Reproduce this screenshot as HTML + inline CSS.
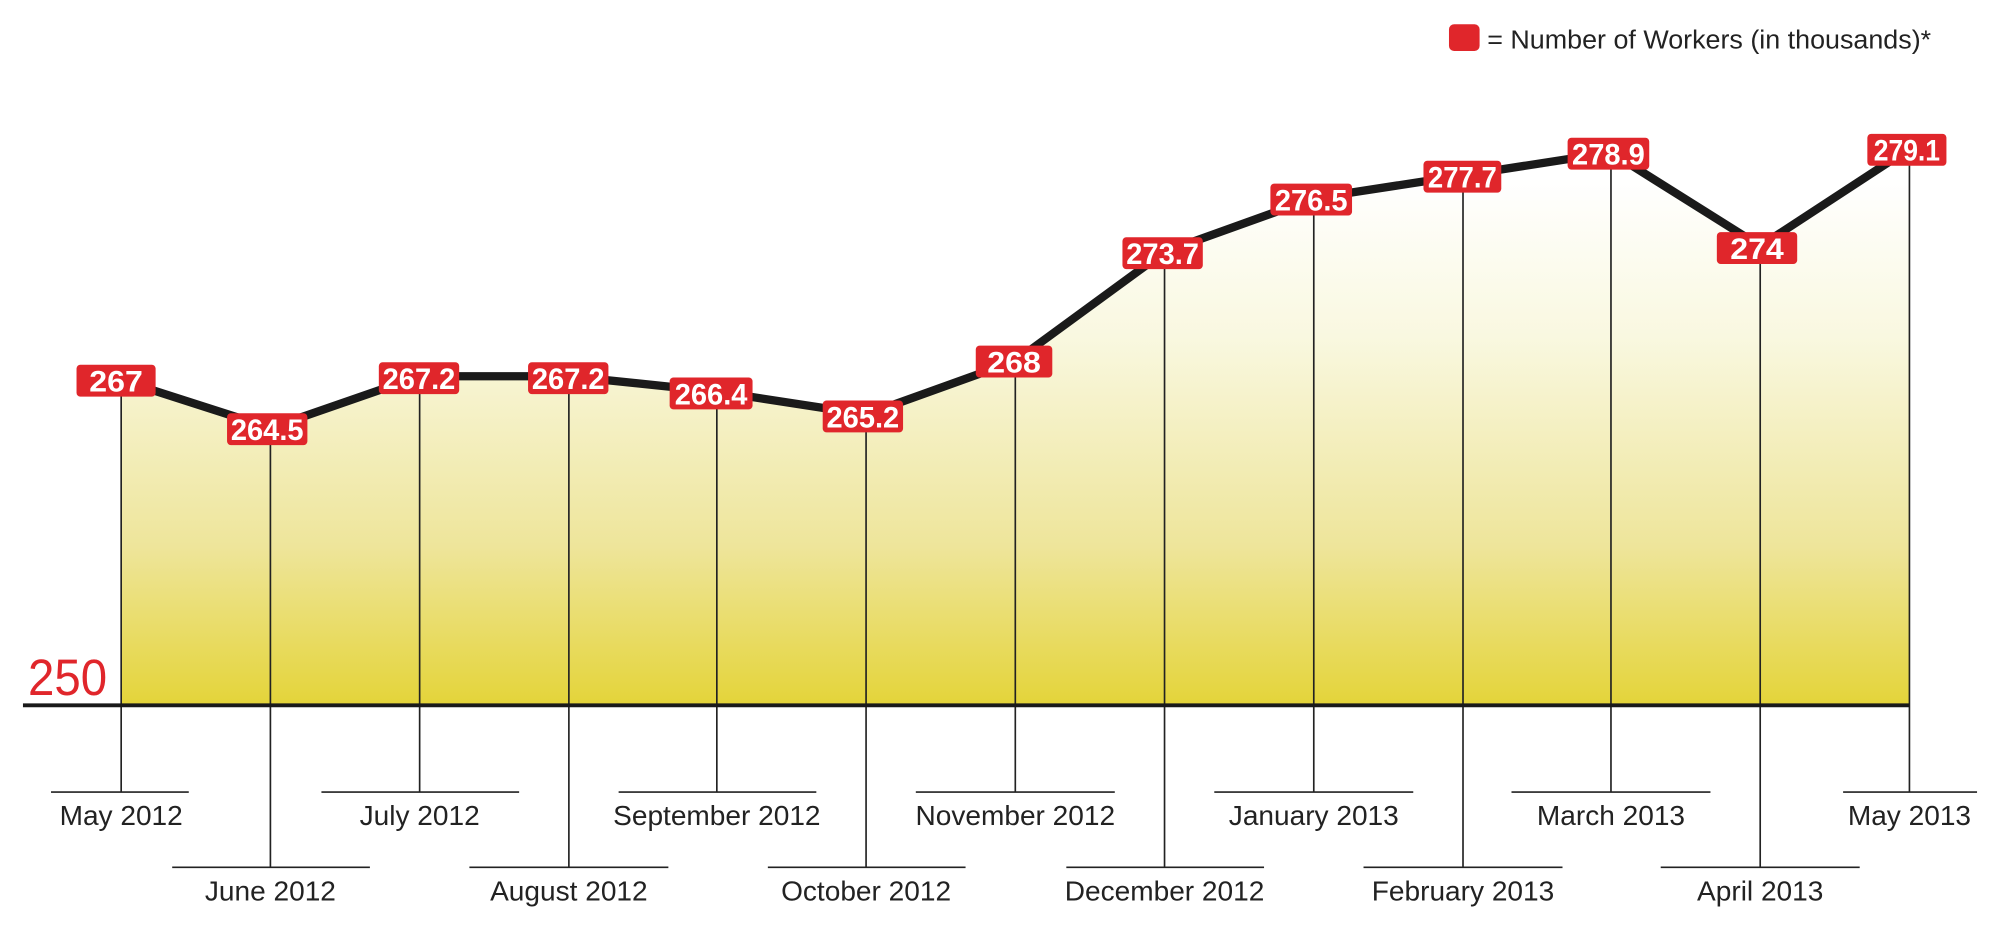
<!DOCTYPE html>
<html><head><style>html,body{margin:0;padding:0;background:#fff;width:2000px;height:933px;overflow:hidden}</style></head>
<body>
<svg width="2000" height="933" viewBox="0 0 1568 731.5" preserveAspectRatio="none" xmlns="http://www.w3.org/2000/svg" font-family="Liberation Sans, sans-serif">
<defs>
<linearGradient id="f" x1="0" y1="140" x2="0" y2="553" gradientUnits="userSpaceOnUse">
<stop offset="0" stop-color="#ffffff"/>
<stop offset="0.3" stop-color="#f9f8e0"/>
<stop offset="0.7" stop-color="#eee59a"/>
<stop offset="1" stop-color="#e4d439"/>
</linearGradient>
</defs>
<polygon fill="url(#f)" points="95,553 95,298 212,335.5 329,295 446,295 562,307 679,325 796,283 913,197.5 1030,155.5 1147,137.5 1263,119.5 1380,193 1497,116.5 1497,553"/>
<g stroke="#222" stroke-width="1.3" fill="none">
<path d="M95,298V621M212,335V680M329,295V621M446,295V680M562,307V621M679,325V680M796,283V621M913,197V680M1030,155V621M1147,137V680M1263,119V621M1380,193V680M1497,116V621"/>
<path d="M40,621H148M252,621H407M485,621H640M718,621H874M952,621H1108M1185,621H1341M1445,621H1550"/>
<path d="M135,680H290M368,680H524M602,680H757M836,680H991M1069,680H1225M1302,680H1458"/>
</g>
<line x1="18" y1="553" x2="1497" y2="553" stroke="#1a1a1a" stroke-width="3"/>
<polyline fill="none" stroke="#1a1a1a" stroke-width="6.5" stroke-linejoin="round" points="95,298 212,335.5 329,295 446,295 562,307 679,325 796,283 913,197.5 1030,155.5 1147,137.5 1263,119.5 1380,193 1497,116.5"/>
<g fill="#e0262b">
<rect x="60" y="286" width="62" height="25" rx="3"/>
<rect x="178" y="324" width="63" height="25" rx="3"/>
<rect x="297" y="284" width="63" height="25" rx="3"/>
<rect x="414" y="284" width="63" height="25" rx="3"/>
<rect x="525" y="296" width="65" height="25" rx="3"/>
<rect x="645" y="314" width="63" height="25" rx="3"/>
<rect x="765" y="271" width="60" height="25" rx="3"/>
<rect x="880" y="186" width="63" height="25" rx="3"/>
<rect x="996" y="144" width="64" height="25" rx="3"/>
<rect x="1116" y="126" width="61" height="25" rx="3"/>
<rect x="1229" y="108" width="64" height="25" rx="3"/>
<rect x="1346" y="182" width="63" height="25" rx="3"/>
<rect x="1464" y="105" width="62" height="25" rx="3"/>
<rect x="1136" y="19" width="24" height="21" rx="4"/>
</g>
<g fill="#fff" font-weight="bold" font-size="23" text-anchor="middle">
<text x="91" y="307" textLength="42" lengthAdjust="spacingAndGlyphs">267</text>
<text x="209.5" y="345" textLength="57" lengthAdjust="spacingAndGlyphs">264.5</text>
<text x="328.5" y="305" textLength="57" lengthAdjust="spacingAndGlyphs">267.2</text>
<text x="445.5" y="305" textLength="57" lengthAdjust="spacingAndGlyphs">267.2</text>
<text x="557.5" y="317" textLength="57" lengthAdjust="spacingAndGlyphs">266.4</text>
<text x="676.5" y="335" textLength="57" lengthAdjust="spacingAndGlyphs">265.2</text>
<text x="795" y="292" textLength="42" lengthAdjust="spacingAndGlyphs">268</text>
<text x="911.5" y="207" textLength="57" lengthAdjust="spacingAndGlyphs">273.7</text>
<text x="1028" y="165" textLength="57" lengthAdjust="spacingAndGlyphs">276.5</text>
<text x="1146.5" y="147" textLength="54" lengthAdjust="spacingAndGlyphs">277.7</text>
<text x="1261" y="129" textLength="57" lengthAdjust="spacingAndGlyphs">278.9</text>
<text x="1377.5" y="203" textLength="42" lengthAdjust="spacingAndGlyphs">274</text>
<text x="1495" y="126" textLength="52" lengthAdjust="spacingAndGlyphs">279.1</text>
</g>
<text x="1166" y="38" font-size="20" fill="#222" textLength="348" lengthAdjust="spacingAndGlyphs">= Number of Workers (in thousands)*</text>
<text x="22" y="545" font-size="40" fill="#e0262b" textLength="62" lengthAdjust="spacingAndGlyphs">250</text>
<g font-size="22" fill="#222" text-anchor="middle">
<text x="95" y="647">May 2012</text>
<text x="212" y="706">June 2012</text>
<text x="329" y="647">July 2012</text>
<text x="446" y="706">August 2012</text>
<text x="562" y="647">September 2012</text>
<text x="679" y="706">October 2012</text>
<text x="796" y="647">November 2012</text>
<text x="913" y="706">December 2012</text>
<text x="1030" y="647">January 2013</text>
<text x="1147" y="706">February 2013</text>
<text x="1263" y="647">March 2013</text>
<text x="1380" y="706">April 2013</text>
<text x="1497" y="647">May 2013</text>
</g>
</svg>
</body></html>
